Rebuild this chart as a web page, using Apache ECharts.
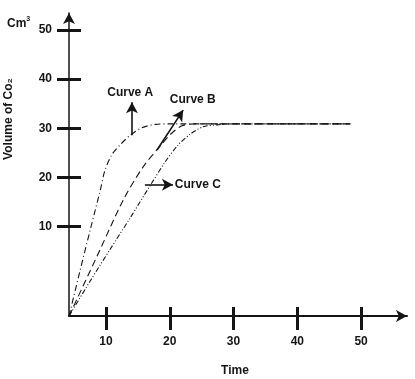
<!DOCTYPE html>
<html><head><meta charset="utf-8">
<script src="https://cdn.jsdelivr.net/npm/echarts@6/dist/echarts.min.js"></script>
<style>html,body{margin:0;padding:0;background:#fff}#c{width:415px;height:379px}</style>
</head><body><div id="c"></div>
<script>
const xTicks = [10, 20, 30, 40, 50];
const yTicks = [10, 20, 30, 40, 50];
const xRange = [4.2, 57.2];
const yRange = [-8.17, 53.45];
const curveA = [[4.2,-8.2],[5.9,0.9],[7.5,9.2],[9.1,17.4],[9.8,21.3],[10.9,24.6],[12.2,26.6],[13.8,28.6],[15.6,30.1],[17.7,30.8],[20.0,30.9],[48.3,30.9]];
const curveB = [[4.2,-8.2],[9.1,5.4],[12.7,15.4],[15.8,22.1],[18.5,26.4],[20.3,29.0],[21.9,30.5],[23.9,30.9],[48.3,30.9]];
const curveC = [[4.2,-8.2],[7.5,-1.1],[10.6,5.3],[13.8,11.8],[16.9,18.3],[19.3,23.2],[21.3,26.6],[23.2,28.8],[25.2,30.3],[27.4,30.7],[30.2,30.9],[48.3,30.9]];
const arrowA = [[14.07,28.6],[14.07,35.3]];
const arrowB = [[18.0,25.6],[22.1,33.7]];
const arrowC = [[16.1,18.5],[20.5,18.5]];
const labelA = {text:'Curve A', at:[10.2,37.2]};
const labelB = {text:'Curve B', at:[20.0,35.8]};
const labelC = {text:'Curve C', at:[20.8,18.5]};

const ink = '#151515';
const font = 'Liberation Sans, Arial, sans-serif';
const chart = echarts.init(document.getElementById('c'));

function xAx(inside, len, show) {
  return {type:'value', position:'bottom', min:xRange[0], max:xRange[1], splitLine:{show:false},
    axisLine:{show:show, onZero:false, lineStyle:{color:ink,width:2}, symbol:['none','arrow'], symbolSize:[9,11]},
    axisTick:{show:true, inside:inside, length:len, customValues:xTicks, lineStyle:{color:ink,width:3}},
    axisLabel:{show:show, customValues:xTicks, margin:20, color:ink, fontSize:12, fontWeight:'bold', fontFamily:font}};
}
function yAx(inside, len, show) {
  return {type:'value', position:'left', min:yRange[0], max:yRange[1], splitLine:{show:false},
    axisLine:{show:show, onZero:false, lineStyle:{color:ink,width:1.5}, symbol:['none','arrow'], symbolSize:[9,11]},
    axisTick:{show:true, inside:inside, length:len, customValues:yTicks, lineStyle:{color:ink,width:3}},
    axisLabel:{show:show, customValues:yTicks, margin:17, color:ink, fontSize:12, fontWeight:'bold', fontFamily:font}};
}
function arrowLine(a) {
  return [{coord:a[0], symbol:'none'}, {coord:a[1], symbol:'arrow'}];
}
function lbl(l) {
  return {coord:l.at, symbol:'circle', symbolSize:0, value:0,
    label:{show:true, position:'right', distance:0, formatter:l.text, color:ink, fontSize:12, fontWeight:'bold', fontFamily:font}};
}
function curve(name, data, dash, extra) {
  const s = {type:'line', name:name, data:data, smooth:0.3, showSymbol:false, symbol:'none',
    lineStyle:{color:ink, width:1.1, type:dash}, silent:true, z:3};
  return Object.assign(s, extra || {});
}
chart.setOption({
  animation:false,
  backgroundColor:'#fff',
  grid:{left:69, right:8, top:13, bottom:63},
  xAxis:[xAx(false,14,true), xAx(true,9,false)],
  yAxis:[yAx(false,12,true), yAx(true,12,false)],
  series:[
    curve('Curve A', curveA, [6,3,1,3], {
      markLine:{silent:true, symbolSize:[9,11], lineStyle:{color:ink,width:1.6,type:'solid'}, label:{show:false},
        data:[arrowLine(arrowA), arrowLine(arrowB), arrowLine(arrowC)]},
      markPoint:{silent:true, data:[lbl(labelA), lbl(labelB), lbl(labelC)]}
    }),
    curve('Curve B', curveB, [7,4]),
    curve('Curve C', curveC, [5,2,1,2,1,2])
  ],
  graphic:[
    {type:'text', left:7, top:16, style:{text:'Cm{s|3}', fill:ink, font:'bold 12px '+font,
      rich:{s:{fontSize:7, fontWeight:'bold', fontFamily:font, verticalAlign:'top', padding:[0,0,8,0]}}}},
    {type:'text', x:9, y:119, rotation:Math.PI/2, style:{text:'Volume of Co\u2082', fill:ink, font:'bold 12px '+font, align:'center', verticalAlign:'middle'}},
    {type:'text', x:235, y:371, style:{text:'Time', fill:ink, font:'bold 12px '+font, align:'center', verticalAlign:'middle'}}
  ]
});
</script></body></html>
